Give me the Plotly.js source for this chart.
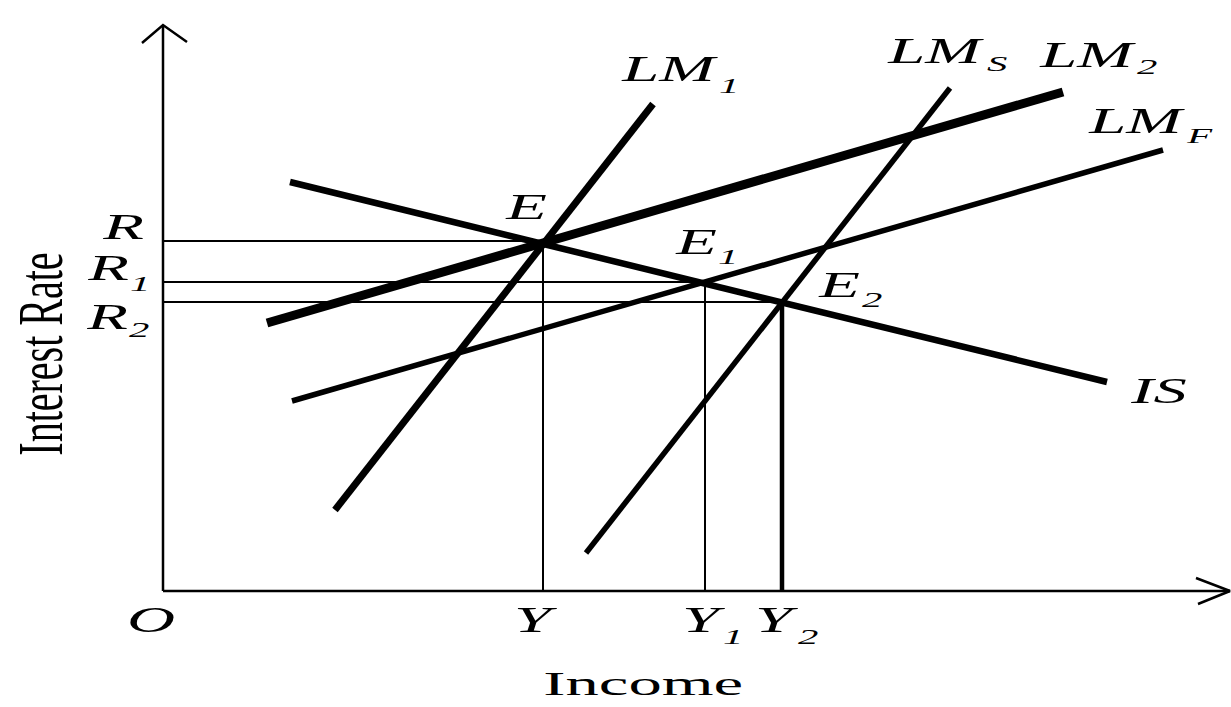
<!DOCTYPE html>
<html>
<head>
<meta charset="utf-8">
<script src="https://cdn.plot.ly/plotly-3.0.1.min.js"></script>
<style>
  html, body { margin: 0; padding: 0; background: #fff; }
  #chart { width: 1231px; height: 707px; }
  .annotation-text { transform-box: fill-box; transform-origin: 50% 50%; transform: scaleX(1.85); }
</style>
</head>
<body>
<div id="chart"></div>
<script>
// ---- data (economic coordinates: origin O at 0,0) ----
const isX  = [127, 944],  isY  = [409, 209];
const lm1X = [172, 490],  lm1Y = [81, 487];
const lm2X = [104, 900],  lm2Y = [268, 499];
const lmfX = [129, 1000], lmfY = [190, 441];
const lmsX = [423, 787],  lmsY = [38, 503];

const rateLevels   = [350, 309, 289];   // R, R1, R2
const incomeLevels = [380, 542, 619];   // Y, Y1, Y2

const xAxisEnd = 1067, yAxisEnd = 566;

// labels: main letters and their subscripts
const mainLabels = ['LM', 'LM', 'LM', 'LM', 'IS', 'E', 'E', 'E', 'R', 'R', 'R', 'Y', 'Y', 'Y', 'O'];
const mainX      = [507, 773, 925, 974, 995, 363, 533, 676, -40, -55, -56, 373, 541, 614, -12];
const mainY      = [522, 540, 536, 470, 200, 384, 349, 306, 364, 323, 274, -29, -29, -29, -29];
const subLabels  = ['1', 'S', '2', 'F', '1', '2', '1', '2', '1', '2'];
const subX       = [566, 834, 984, 1036, 565, 709, -23, -24, 570, 645];
const subY       = [505, 527, 524, 455, 334, 291, 307, 261, -46, -46];

const xTitle = 'Income';
const yTitle = 'Interest Rate';

// ---- traces ----
const black = '#000';
function seg(x, y, w) {
  return {x: x, y: y, mode: 'lines', type: 'scatter', hoverinfo: 'skip',
          line: {color: black, width: w}, showlegend: false};
}
const traces = [];
// axes with open arrow heads
traces.push(seg([0, xAxisEnd], [0, 0], 2.5));
traces.push(seg([0, 0], [0, yAxisEnd], 2.5));
traces.push(seg([xAxisEnd - 34, xAxisEnd, xAxisEnd - 32], [13, 0, -13], 2.5));
traces.push(seg([-21, 0, 24], [yAxisEnd - 18, yAxisEnd, yAxisEnd - 17], 2.5));
// guide lines to the equilibria
for (let i = 0; i < 3; i++) {
  traces.push(seg([0, incomeLevels[i]], [rateLevels[i], rateLevels[i]], 2));
  traces.push(seg([incomeLevels[i], incomeLevels[i]], [0, rateLevels[i]], i === 2 ? 4.5 : 2));
}
// IS / LM curves
traces.push(seg(isX, isY, 6.5));
traces.push(seg(lm1X, lm1Y, 7));
traces.push(seg(lm2X, lm2Y, 9));
traces.push(seg(lmfX, lmfY, 5.5));
traces.push(seg(lmsX, lmsY, 5.5));

// ---- annotations ----
const serif = 'Liberation Serif, Times New Roman, serif';
const ann = [];
const stretch = [];
function lab(text, x, y, font, s, extra) {
  ann.push(Object.assign({text: text, x: x, y: y, xref: 'x', yref: 'y', showarrow: false,
    xanchor: 'center', yanchor: 'middle', font: font}, extra || {}));
  stretch.push(s);
}
for (let i = 0; i < mainLabels.length; i++)
  lab(mainLabels[i], mainX[i], mainY[i], {family: serif, size: 36, color: black, style: 'italic'}, 'scaleX(1.85)');
for (let i = 0; i < subLabels.length; i++)
  lab(subLabels[i], subX[i], subY[i], {family: serif, size: 22, color: black, style: 'italic'}, 'scaleX(1.85)');
lab(xTitle, 480, -114, {family: serif, size: 34, color: black}, 'scaleX(1.96)', {yanchor: 'bottom'});
lab(yTitle, -123, 237, {family: serif, size: 40, color: black}, 'scaleY(1.6)', {textangle: -90});

const layout = {
  width: 1231, height: 707,
  margin: {l: 0, r: 0, t: 0, b: 0, pad: 0},
  paper_bgcolor: '#fff', plot_bgcolor: '#fff',
  xaxis: {range: [-163, 1068], visible: false, showgrid: false, zeroline: false, fixedrange: true},
  yaxis: {range: [-116, 591], visible: false, showgrid: false, zeroline: false, fixedrange: true},
  annotations: ann,
  showlegend: false
};

Plotly.newPlot('chart', traces, layout, {displayModeBar: false, staticPlot: true}).then(function (gd) {
  gd.querySelectorAll('.annotation').forEach(function (g) {
    const idx = +g.getAttribute('data-index');
    const t = g.querySelector('.annotation-text');
    if (t && stretch[idx]) t.style.transform = stretch[idx];
  });
});
</script>
</body>
</html>
